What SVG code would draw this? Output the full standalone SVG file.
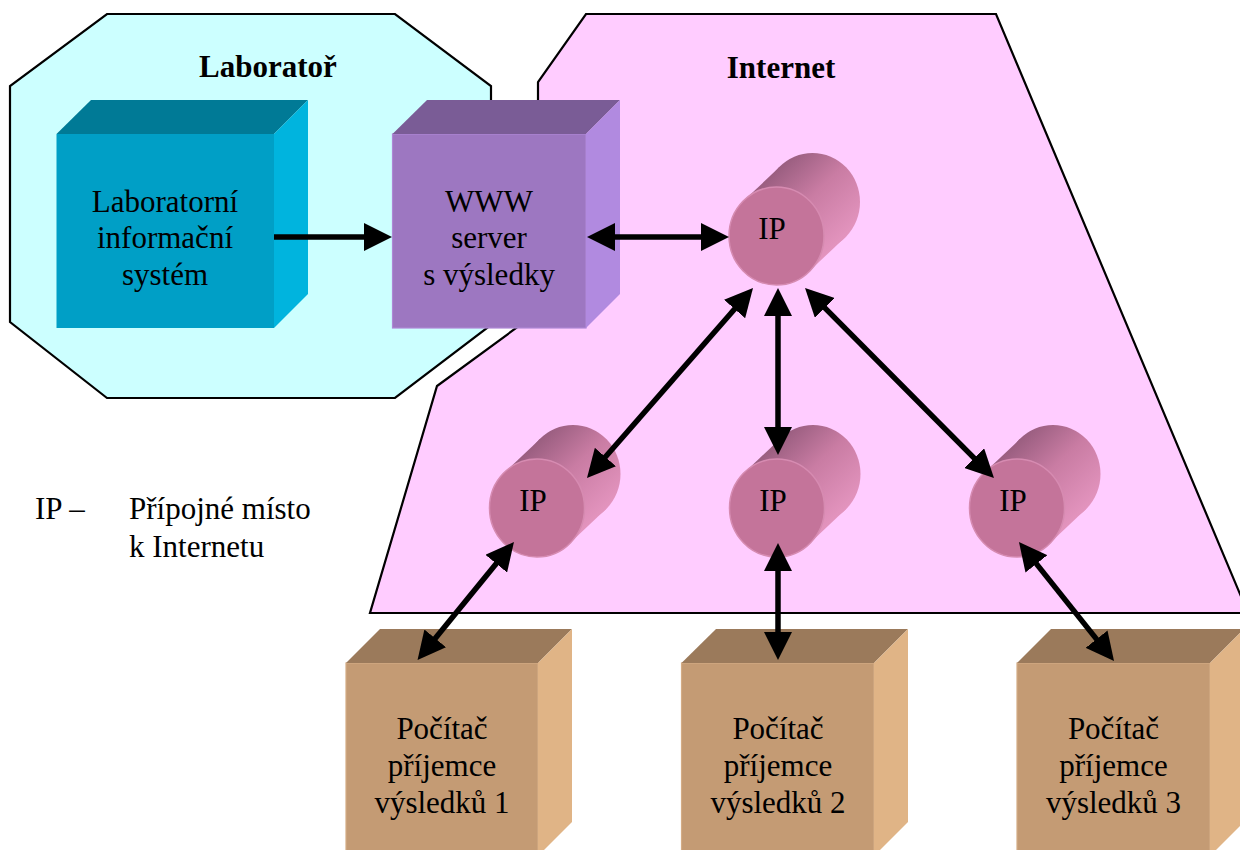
<svg xmlns="http://www.w3.org/2000/svg" xmlns:xlink="http://www.w3.org/1999/xlink" width="1240" height="850" viewBox="0 0 1240 850">
<style>
  text { font-family: "Liberation Serif", "Times New Roman", serif; font-size: 31px; fill: #000; }
  .c { text-anchor: middle; }
  .b { font-weight: bold; }
  .region { stroke: #000; stroke-width: 2.2; stroke-linejoin: miter; }
  .arrow { stroke: #000; stroke-width: 5.5; fill: none; }
</style>
<defs>
  <marker id="ah" viewBox="0 0 28 28" refX="14" refY="14" markerWidth="28" markerHeight="28" markerUnits="userSpaceOnUse" orient="auto-start-reverse">
    <path d="M0,0 L28,14 L0,28 z" fill="#000"/>
  </marker>
  <linearGradient id="tube" gradientUnits="userSpaceOnUse" x1="-15" y1="-52" x2="51" y2="18">
    <stop offset="0" stop-color="#9A5E80"/>
    <stop offset="0.45" stop-color="#C97CA3"/>
    <stop offset="1" stop-color="#E394BE"/>
  </linearGradient>
  <g id="cyl">
    <ellipse cx="36" cy="-34" rx="47.5" ry="49" fill="url(#tube)"/>
    <polygon points="33,35 -33,-35 3,-69 69,1" fill="url(#tube)"/>
    <ellipse cx="0" cy="0" rx="47.5" ry="49" fill="#C4749A" stroke="#D68BB1" stroke-width="1.5"/>
  </g>
</defs>

<g id="laborator">
  <polygon class="region" fill="#CCFFFF" points="107,14 395,14 491,86 491,325 395,398 107,398 10,322 10,86"/>
  <text class="c b" x="268" y="77">Laboratoř</text>
</g>

<g id="internet">
  <polygon class="region" fill="#FFCCFF" points="586,14 996,14 1248,613 370,613 437,386 538,312 538,82"/>
  <text class="c b" x="781" y="78">Internet</text>
</g>

<g id="lis">
  <rect x="56.5" y="134" width="217.5" height="194" fill="#009FC6"/>
  <polygon points="56.5,134 91,100 308,100 274,134" fill="#007A96"/>
  <polygon points="274,134 308,100 308,294 274,328" fill="#00B4DE"/>
  <text class="c" x="165" y="212">Laboratorní</text>
  <text class="c" x="165" y="248">informační</text>
  <text class="c" x="165" y="285">systém</text>
</g>

<g id="www">
  <rect x="392.5" y="134" width="193.5" height="194" fill="#9D77C1" stroke="#AE88D6" stroke-width="1.2"/>
  <polygon points="392.5,134 427,100 620,100 586,134" fill="#7A5C96"/>
  <polygon points="586,134 620,100 620,294 586,328" fill="#B18AE0"/>
  <text class="c" x="489" y="212">WWW</text>
  <text class="c" x="489" y="248">server</text>
  <text class="c" x="489" y="285">s výsledky</text>
</g>

<g id="ip-top">
  <use xlink:href="#cyl" x="776.5" y="236"/>
  <text class="c" x="772" y="239">IP</text>
</g>
<g id="ip-1">
  <use xlink:href="#cyl" x="537" y="508"/>
  <text class="c" x="533" y="511">IP</text>
</g>
<g id="ip-2">
  <use xlink:href="#cyl" x="777" y="508"/>
  <text class="c" x="773" y="511">IP</text>
</g>
<g id="ip-3">
  <use xlink:href="#cyl" x="1017" y="508"/>
  <text class="c" x="1013" y="511">IP</text>
</g>

<g id="pc-1">
  <rect x="346" y="663" width="192" height="197" fill="#C49B74" stroke="#D4AC85" stroke-width="1.2"/>
  <polygon points="346,663 380,629 572,629 538,663" fill="#9B7A5B"/>
  <polygon points="538,663 572,629 572,822 538,856" fill="#E0B486"/>
  <text class="c" x="442" y="739">Počítač</text>
  <text class="c" x="442" y="776">příjemce</text>
  <text class="c" x="442" y="813">výsledků 1</text>
</g>
<g id="pc-2">
  <rect x="681.5" y="663" width="192.5" height="197" fill="#C49B74" stroke="#D4AC85" stroke-width="1.2"/>
  <polygon points="681.5,663 716,629 908,629 874,663" fill="#9B7A5B"/>
  <polygon points="874,663 908,629 908,822 874,856" fill="#E0B486"/>
  <text class="c" x="778" y="739">Počítač</text>
  <text class="c" x="778" y="776">příjemce</text>
  <text class="c" x="778" y="813">výsledků 2</text>
</g>
<g id="pc-3">
  <rect x="1017" y="663" width="193" height="197" fill="#C49B74" stroke="#D4AC85" stroke-width="1.2"/>
  <polygon points="1017,663 1051,629 1244,629 1210,663" fill="#9B7A5B"/>
  <polygon points="1210,663 1244,629 1244,822 1210,856" fill="#E0B486"/>
  <text class="c" x="1113.5" y="739">Počítač</text>
  <text class="c" x="1113.5" y="776">příjemce</text>
  <text class="c" x="1113.5" y="813">výsledků 3</text>
</g>

<g id="legend">
  <text x="35" y="519">IP –</text>
  <text x="129" y="519">Přípojné místo</text>
  <text x="129" y="557">k Internetu</text>
</g>

<g id="connectors">
  <line class="arrow" x1="274" y1="237" x2="378" y2="237" marker-end="url(#ah)"/>
  <line class="arrow" x1="601" y1="237" x2="715" y2="237" marker-start="url(#ah)" marker-end="url(#ah)"/>
  <line class="arrow" x1="778" y1="302" x2="778" y2="441" marker-start="url(#ah)" marker-end="url(#ah)"/>
  <line class="arrow" x1="743.8" y1="298.5" x2="596.2" y2="467.5" marker-start="url(#ah)" marker-end="url(#ah)"/>
  <line class="arrow" x1="814.9" y1="297.9" x2="984.1" y2="468.1" marker-start="url(#ah)" marker-end="url(#ah)"/>
  <line class="arrow" x1="505.1" y1="552.8" x2="426.4" y2="649.2" marker-start="url(#ah)" marker-end="url(#ah)"/>
  <line class="arrow" x1="778" y1="557" x2="778" y2="646" marker-start="url(#ah)" marker-end="url(#ah)"/>
  <line class="arrow" x1="1027.7" y1="552.9" x2="1105.3" y2="650.1" marker-start="url(#ah)" marker-end="url(#ah)"/>
</g>
</svg>
